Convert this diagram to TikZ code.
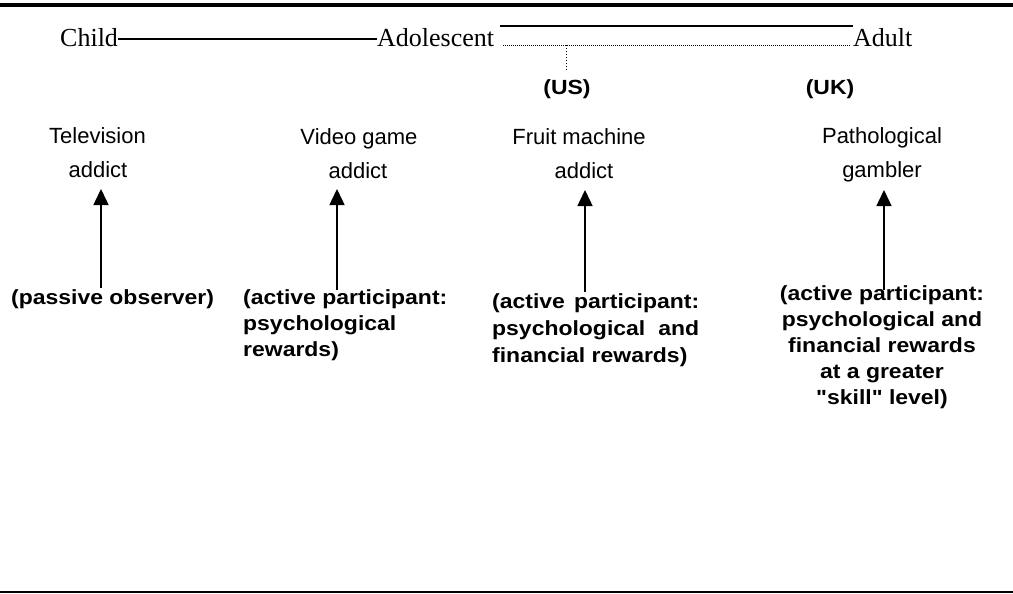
\documentclass[tikz,border=0pt]{standalone}
\usepackage{fontspec}
\setmainfont{Liberation Serif}
\newfontfamily\lsans{Liberation Sans}
\newfontfamily\lbold[FakeStretch=1.12]{Liberation Sans}
\usetikzlibrary{arrows.meta,calc}
\tikzset{
  serif/.style={font=\fontsize{26}{30}\selectfont, inner sep=0pt, anchor=base},
  lab/.style={font=\lsans\fontsize{22}{30}\selectfont, inner sep=0pt, anchor=base},
  bld/.style={font=\lbold\bfseries\fontsize{20.5}{26}\selectfont, inner sep=0pt},
  arr/.style={line width=1.5pt, -{Triangle[width=15pt,length=16pt]}},
  dotln/.style={line width=0.8pt, dash pattern=on 1pt off 1pt},
}
\begin{document}
\begin{tikzpicture}[x=1pt,y=-1pt]
\useasboundingbox (0,0) rectangle (1013,594);
% rules
\coordinate (r1) at (0,5); \coordinate (r2) at (1013,5);
\draw[line width=3.5pt] (r1) -- (r2);
\coordinate (b1) at (0,592); \coordinate (b2) at (1013,592);
\draw[line width=1.2pt] (b1) -- (b2);
% timeline
\node[serif, anchor=base west] (child) at (60,47) {Child};
\node[serif, anchor=base west] (adol) at (377,47) {Adolescent};
\node[serif, anchor=base west] (adult) at (853,47) {Adult};
\draw[line width=1.6pt] ($(child.base east)+(0,-8)$) -- ($(adol.base west)+(0,-8)$);
\coordinate (t1) at (500,26); \coordinate (t2) at (853,26);
\draw[line width=2.5pt] (t1) -- (t2);
\coordinate (d1) at (503,45); \coordinate (d2) at (851,45);
\draw[dotln] (d1) -- (d2);
\coordinate (v1) at (566,45); \coordinate (v2) at (566,70);
\draw[line width=1pt, dash pattern=on 1.5pt off 1.5pt] (v1) -- (v2);
\node[bld, anchor=base] (us) at (567,95) {(US)};
\node[bld, anchor=base] (uk) at (830,95) {(UK)};
% addict labels
\node[lab] (tv1) at (97.5,143) {Television};
\node[lab] (tv2) at (98,177) {addict};
\node[lab] (vg1) at (359,144) {Video game};
\node[lab] (vg2) at (358,178) {addict};
\node[lab] (fm1) at (579,144) {Fruit machine};
\node[lab] (fm2) at (584,178) {addict};
\node[lab] (pg1) at (882,143) {Pathological};
\node[lab] (pg2) at (882,177) {gambler};
% descriptions
\node[bld, anchor=base west] (po) at (11,304) {(passive observer)};
\node[bld, anchor=base west] (va1) at (243,304) {(active participant:};
\node[bld, anchor=base west] (va2) at (243,330) {psychological};
\node[bld, anchor=base west] (va3) at (243,356) {rewards)};
\node[bld, anchor=base west] (fa1) at (492,308) {\makebox[207pt][s]{(active participant:}};
\node[bld, anchor=base west] (fa2) at (492,335) {\makebox[207pt][s]{psychological and}};
\node[bld, anchor=base west] (fa3) at (492,362) {financial rewards)};
\node[bld, anchor=base] (pa1) at (882,300) {(active participant:};
\node[bld, anchor=base] (pa2) at (882,326) {psychological and};
\node[bld, anchor=base] (pa3) at (882,352) {financial rewards};
\node[bld, anchor=base] (pa4) at (882,378) {at a greater};
\node[bld, anchor=base] (pa5) at (882,404) {"skill" level)};
% arrows
\coordinate (a1s) at (101,288); \coordinate (a1e) at (101,189);
\coordinate (a2s) at (337,290); \coordinate (a2e) at (337,189);
\coordinate (a3s) at (585,292); \coordinate (a3e) at (585,190);
\coordinate (a4s) at (884,290); \coordinate (a4e) at (884,190);
\draw[arr] (a1s) -- (a1e);
\draw[arr] (a2s) -- (a2e);
\draw[arr] (a3s) -- (a3e);
\draw[arr] (a4s) -- (a4e);
\end{tikzpicture}
\end{document}
